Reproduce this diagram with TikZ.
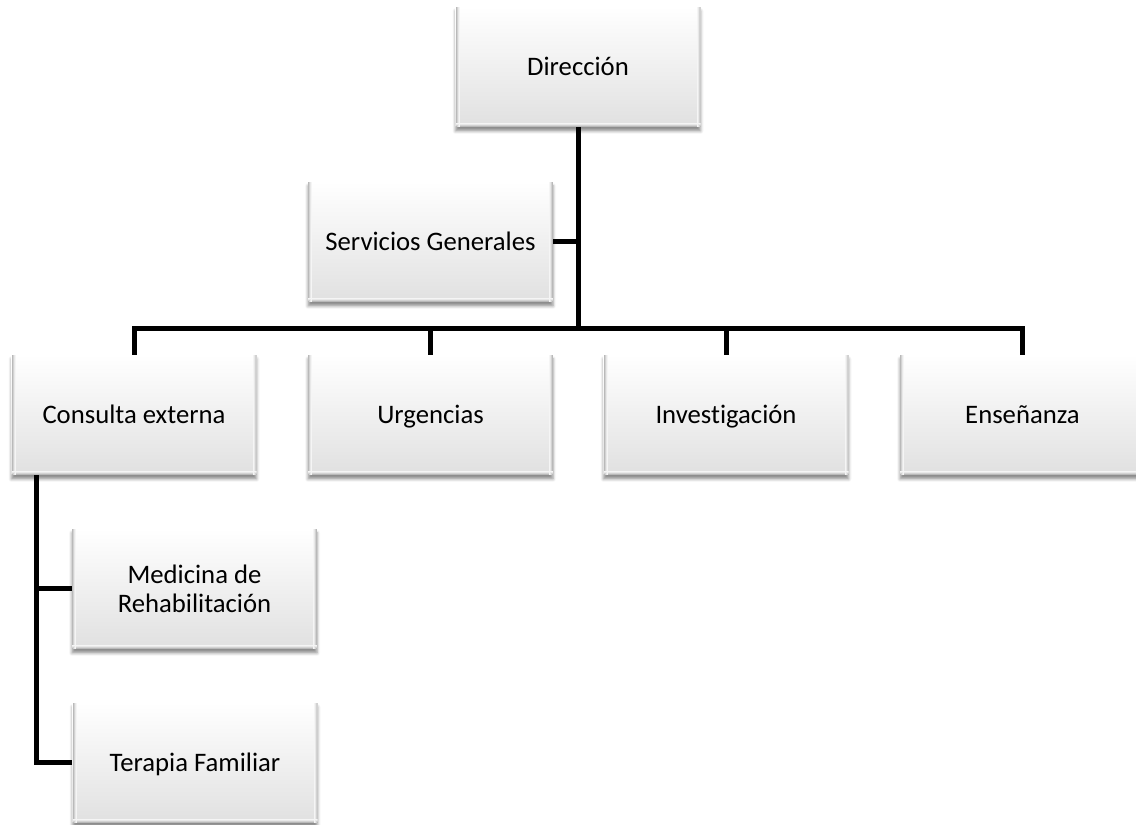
\documentclass[tikz,border=0pt]{standalone}
\usepackage{fontspec}
\setmainfont{Carlito}[Ligatures={NoCommon}]
\usetikzlibrary{shadows.blur,calc}
\begin{document}
\begin{tikzpicture}[x=1pt,y=1pt,
  unit/.style={rectangle, minimum width=245pt, minimum height=120pt, inner sep=0pt,
    top color=white, bottom color=gray!24, draw=none,
    font=\fontsize{26.7}{29}\selectfont, align=center, text=black,
    text height=17pt, text depth=0pt,
    blur shadow={shadow xshift=0pt, shadow yshift=-4pt, shadow blur radius=3pt, shadow opacity=45},
    path picture={
      \foreach \i/\c in {0.5/55,1.5/35,2.5/18,3.5/8}{
        \draw[gray!\c, line width=1pt]
          ([xshift=\i pt]path picture bounding box.south west) --
          ([xshift=\i pt]path picture bounding box.north west);
        \draw[gray!\c, line width=1pt]
          ([xshift=-\i pt]path picture bounding box.south east) --
          ([xshift=-\i pt]path picture bounding box.north east);
        \draw[gray!\c, line width=1pt]
          ([yshift=\i pt]path picture bounding box.south west) --
          ([yshift=\i pt]path picture bounding box.south east);
      }
    }},
  twoline/.style={text height=, text depth=},
  link/.style={line width=5pt, line join=miter, line cap=butt, black}]
\useasboundingbox (0,0) rectangle (1136,825);

% management and its staff unit
\node[unit] (dir) at (578,758) {Dirección};
\node[unit] (sg)  at (430.5,583) {Servicios Generales};

% departments
\node[unit] (ce)  at (134,410)    {Consulta externa};
\node[unit] (ur)  at (430.5,410)  {Urgencias};
\node[unit] (inv) at (726,410)    {Investigación};
\node[unit] (ens) at (1022.5,410) {Enseñanza};

% sub-units of the outpatient department
\node[unit, twoline] (med) at (194.5,236) {Medicina de\\Rehabilitación};
\node[unit] (ter) at (195,62)    {Terapia Familiar};

% connectors
\coordinate (bus) at (578,496.5);
\draw[link] (dir.south) -- (dir.south |- bus);
\draw[link] (sg.east) -- (sg.east -| dir.south);
\draw[link] (ce.north) |- (bus) -| (ens.north);
\draw[link] (ur.north) -- (ur.north |- bus);
\draw[link] (inv.north) -- (inv.north |- bus);

\coordinate (ct) at ($(ce.south west)+(25,0)$);
\draw[link] (ct) |- (ter.west);
\draw[link] (ct |- med.west) -- (med.west);
\end{tikzpicture}
\end{document}
